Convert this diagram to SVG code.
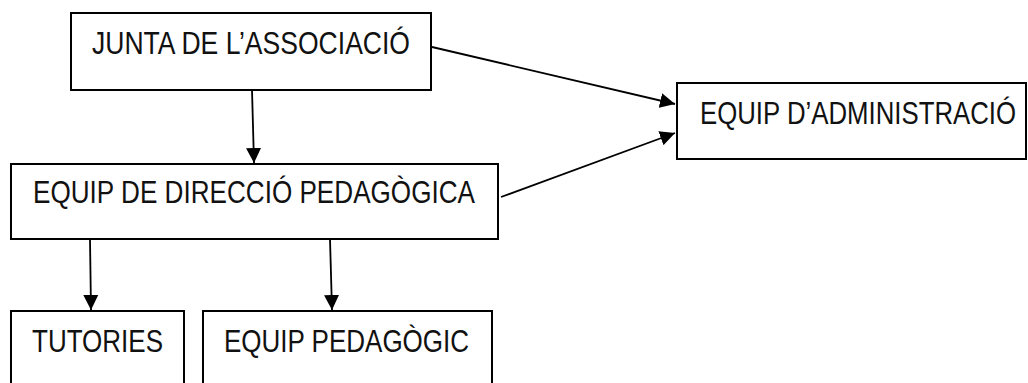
<svg xmlns="http://www.w3.org/2000/svg" width="1028" height="383" viewBox="0 0 1028 383">
<style>
.box{fill:#fff;stroke:#000;stroke-width:2}
.lbl{font-family:"Liberation Sans Narrow","Liberation Sans",Arial,sans-serif;font-size:32px;fill:#111}
.con{stroke:#000;stroke-width:1.8;fill:none;marker-end:url(#ah)}
</style>
<defs>
<marker id="ah" markerUnits="userSpaceOnUse" markerWidth="16" markerHeight="16" viewBox="0 0 16 16" refX="15" refY="8" orient="auto">
<path d="M0,0.5 L15,8 L0,15.5 z" fill="#000"/>
</marker>
</defs>
<rect width="1028" height="383" fill="#fff"/>
<g id="junta"><rect class="box" x="71" y="13" width="360" height="77"/><text class="lbl" x="92" y="54" textLength="318" lengthAdjust="spacingAndGlyphs">JUNTA DE L’ASSOCIACIÓ</text></g>
<g id="administracio"><rect class="box" x="677" y="83" width="349" height="76"/><text class="lbl" x="700" y="124" textLength="316" lengthAdjust="spacingAndGlyphs">EQUIP D’ADMINISTRACIÓ</text></g>
<g id="direccio"><rect class="box" x="11" y="164" width="487" height="75"/><text class="lbl" x="33" y="203" textLength="442" lengthAdjust="spacingAndGlyphs">EQUIP DE DIRECCIÓ PEDAGÒGICA</text></g>
<g id="tutories"><rect class="box" x="11" y="311" width="173" height="90"/><text class="lbl" x="32" y="352" textLength="131" lengthAdjust="spacingAndGlyphs">TUTORIES</text></g>
<g id="pedagogic"><rect class="box" x="203" y="311" width="289" height="90"/><text class="lbl" x="224" y="352" textLength="245" lengthAdjust="spacingAndGlyphs">EQUIP PEDAGÒGIC</text></g>
<g id="connectors">
<line class="con" x1="252" y1="90" x2="254" y2="163"/>
<line class="con" x1="432" y1="47" x2="675" y2="104"/>
<line class="con" x1="501" y1="197" x2="675" y2="133"/>
<line class="con" x1="90" y1="239" x2="91" y2="310"/>
<line class="con" x1="330" y1="239" x2="332" y2="310"/>
</g>
</svg>
